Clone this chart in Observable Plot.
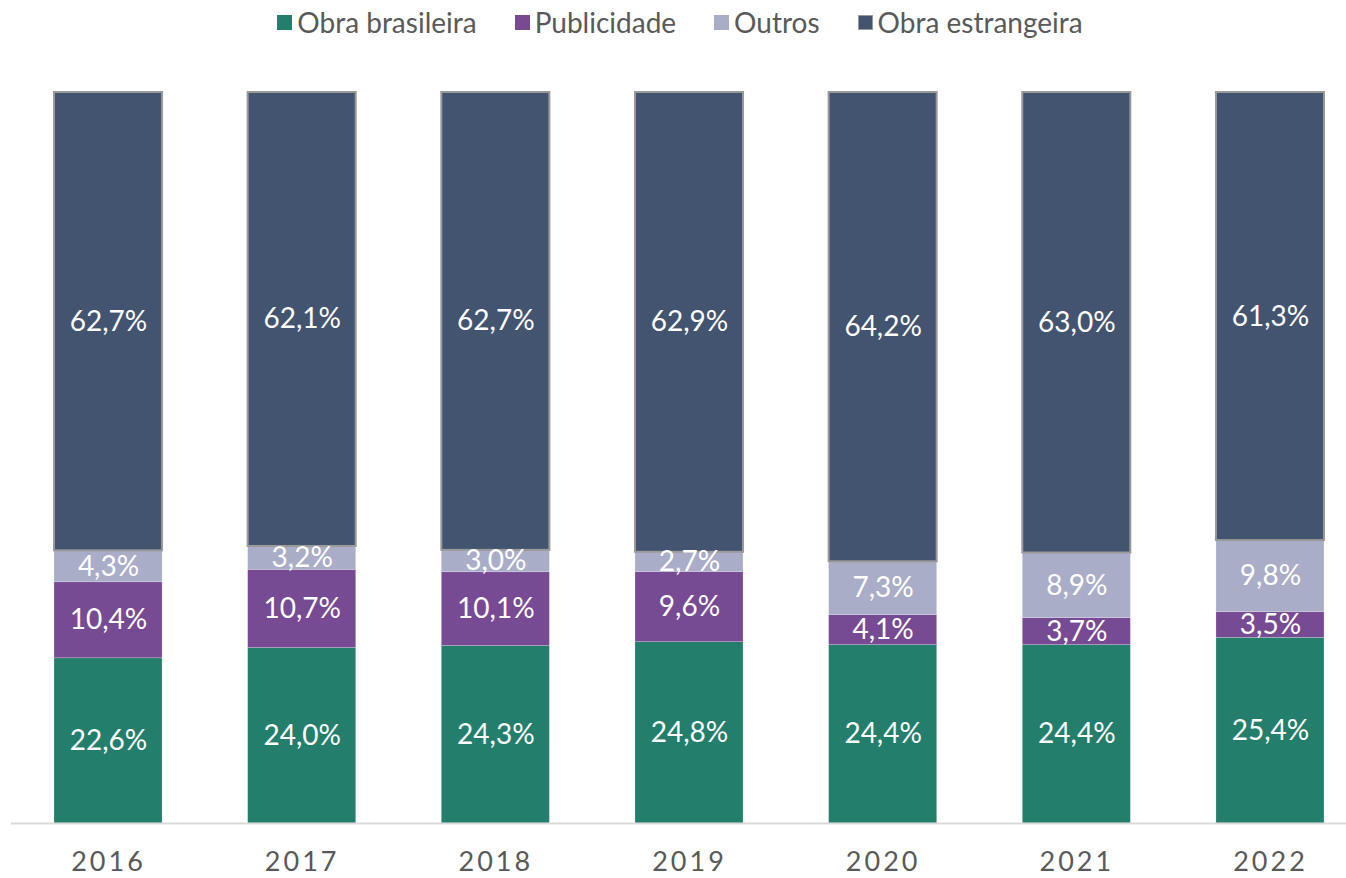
<!DOCTYPE html>
<html>
<head>
<meta charset="utf-8">
<script src="https://cdn.jsdelivr.net/npm/d3@7"></script>
<script src="https://cdn.jsdelivr.net/npm/@observablehq/plot@0.6"></script>
<style>
  html, body { margin: 0; padding: 0; background: #fff; }
  body { width: 1346px; height: 878px; overflow: hidden; font-family: Lato, "Open Sans", sans-serif; }
  #legend { height: 44px; display: flex; justify-content: center; align-items: center; padding-left: 14px; box-sizing: border-box; font-size: 28px; color: #595959; }
  .item { display: flex; align-items: center; margin: 0 19px; }
  .sw { width: 15px; height: 15px; margin-right: 5px; box-sizing: border-box; }
  svg [aria-label="x-axis tick label"] text { letter-spacing: 3px; }
</style>
</head>
<body>
<div id="legend"></div>
<div id="chart"></div>
<script>
const years = ["2016", "2017", "2018", "2019", "2020", "2021", "2022"];
const series = ["Obra brasileira", "Publicidade", "Outros", "Obra estrangeira"];
const colors = ["#237E6C", "#774A94", "#A9ADC8", "#435470"];
const obraBrasileira = [22.6, 24.0, 24.3, 24.8, 24.4, 24.4, 25.4];
const publicidade = [10.4, 10.7, 10.1, 9.6, 4.1, 3.7, 3.5];
const outros = [4.3, 3.2, 3.0, 2.7, 7.3, 8.9, 9.8];
const obraEstrangeira = [62.7, 62.1, 62.7, 62.9, 64.2, 63.0, 61.3];
const values = [obraBrasileira, publicidade, outros, obraEstrangeira];

const data = [];
series.forEach((s, si) => years.forEach((yr, i) => data.push({year: yr, series: s, value: values[si][i]})));

const fmt = v => v.toFixed(1).replace(".", ",") + "%";

// Legend
const legend = document.getElementById("legend");
series.forEach((s, i) => {
  const it = document.createElement("div");
  it.className = "item";
  const sw = document.createElement("div");
  sw.className = "sw";
  sw.style.background = colors[i];
  if (s === "Obra estrangeira") sw.style.border = "1.5px solid #9a9a9a";
  const t = document.createElement("span");
  t.textContent = s;
  it.appendChild(sw); it.appendChild(t);
  legend.appendChild(it);
});

const stackOpts = {x: "year", y: "value", offset: "normalize"};

const chart = Plot.plot({
  width: 1346,
  height: 834,
  marginTop: 48,
  marginBottom: 55,
  marginLeft: 11,
  marginRight: 0,
  style: {fontFamily: "Lato, 'Open Sans', sans-serif", background: "#fff"},
  x: {domain: years, range: [11, 1367], round: false, paddingInner: 0.442, paddingOuter: 0.222, label: null},
  y: {domain: [0, 1], axis: null},
  color: {domain: series, range: colors},
  opacity: {type: "identity"},
  marks: [
    Plot.barY(data, Plot.stackY({...stackOpts, fill: "series", stroke: "#ffffff", strokeWidth: 0.6, strokeOpacity: 0.35})),
    Plot.barY(data, Plot.stackY({...stackOpts, fill: "none", stroke: "#9a9a9a", strokeWidth: 2,
      strokeOpacity: d => d.series === "Obra estrangeira" ? 1 : 0})),
    Plot.text(data, Plot.stackY({...stackOpts, text: d => fmt(d.value), fill: "#ffffff", fontSize: 28})),
    Plot.ruleY([0], {stroke: "#d9d9d9", strokeWidth: 2}),
    Plot.axisX({tickSize: 0, tickPadding: 28, fontSize: 27, color: "#595959", label: null})
  ]
});
document.getElementById("chart").appendChild(chart);
</script>
</body>
</html>
